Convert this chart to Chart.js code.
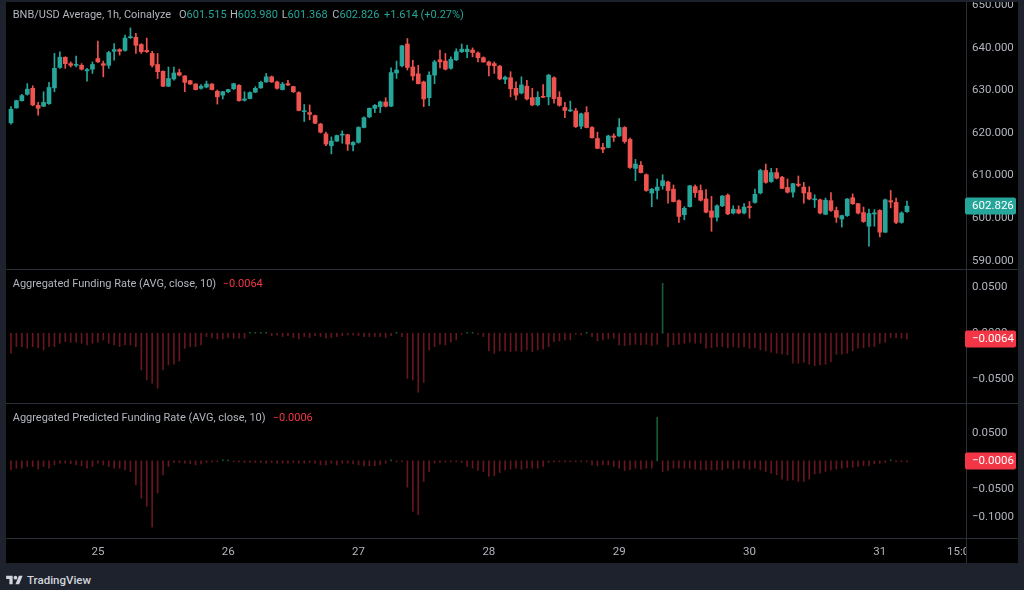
<!DOCTYPE html>
<html><head><meta charset="utf-8">
<script src="https://cdn.jsdelivr.net/npm/chart.js@4.4.1/dist/chart.umd.min.js"></script>
<style>
html,body{margin:0;padding:0;background:#1e222d;width:1024px;height:590px;overflow:hidden;}
#frame{position:absolute;left:6px;top:2px;width:1012px;height:561px;background:#000;}
.pane{position:absolute;left:6px;width:1012px;}
#pA{top:2px;height:267px}
#pB{top:269px;height:134px}
#pC{top:403px;height:160px}
canvas{display:block}
#footer{position:absolute;left:6px;top:572px;height:16px;display:flex;align-items:center;color:#d1d4dc;font:500 11.5px Roboto, sans-serif;}
#footer svg{margin-right:4px}
</style></head><body>
<div id="frame"></div>
<div class="pane" id="pA"><canvas id="cA" width="1012" height="267"></canvas></div>
<div class="pane" id="pB"><canvas id="cB" width="1012" height="134"></canvas></div>
<div class="pane" id="pC"><canvas id="cC" width="1012" height="160"></canvas></div>
<div id="footer"><svg width="17" height="13" viewBox="0 0 36 28"><path fill="#d1d4dc" d="M14 22H7V11H0V4h14v18zM28 22h-8l7.5-18h8L28 22z"/><circle fill="#d1d4dc" cx="20" cy="8" r="4"/></svg><span>TradingView</span></div>
<script>
// ---- data (hourly candles, 24th 08:00 -> 31st 05:00) ----
const hours = Array.from({length:166}, (_, i) => 8 + i); // hours since day 24, 00:00
const opens = [622.4,625.9,627.6,629.1,630.5,626.5,626.3,626.9,630.6,635.4,637.8,636.3,635.9,635.9,634.6,635.0,637.5,636.3,635.9,639.2,639.6,639.4,642.4,642.5,640.8,639.4,638.7,636.1,634.5,631.0,632.7,634.2,633.4,632.3,631.5,630.5,630.8,631.5,629.8,628.9,629.7,630.4,631.2,627.7,628.1,629.6,630.6,632.0,633.2,632.0,630.2,631.6,630.9,629.5,625.0,624.8,624.1,622.1,619.8,617.0,618.1,619.5,619.6,617.2,617.8,621.3,623.8,625.8,626.2,627.3,626.3,634.1,635.8,640.9,635.5,633.9,632.0,628.3,633.6,637.2,636.9,635.2,637.2,639.1,639.1,639.5,638.8,637.7,636.7,636.3,635.7,632.6,633.0,630.5,629.4,631.0,628.3,626.6,628.5,628.5,633.0,628.4,626.0,625.2,625.2,621.6,624.8,621.3,618.7,616.6,616.6,619.3,619.3,621.3,618.5,611.7,612.4,610.2,605.9,606.5,607.6,608.5,606.8,604.1,600.8,602.7,607.4,606.5,604.5,601.7,600.2,602.9,605.4,601.2,602.0,601.2,602.7,603.7,605.9,611.2,608.6,610.7,609.6,607.2,606.1,608.0,607.3,606.0,604.3,604.3,600.9,604.1,601.8,599.8,600.6,604.8,603.4,601.3,598.1,601.0,601.8,596.7,604.1,603.7,599.0,601.515];
const highs = [626.2,627.7,629.1,631.6,631.1,627.2,629.7,631.9,638.7,639.1,637.9,636.7,638.1,636.3,635.2,636.7,641.6,636.9,639.2,641.0,639.8,643.0,644.7,643.4,641.0,642.3,639.2,638.7,634.6,635.5,635.5,635.0,633.5,632.4,631.6,631.4,632.2,631.6,630.1,629.8,630.3,631.7,631.4,629.7,629.7,630.9,632.2,634.0,633.4,632.2,631.9,632.4,631.0,629.7,626.7,626.6,624.2,622.3,620.2,619.1,619.5,620.5,619.7,618.0,621.5,623.8,625.9,626.7,627.5,628.3,635.3,636.9,640.6,642.2,637.1,635.9,632.2,634.4,637.1,639.5,638.7,637.9,639.8,640.9,640.6,640.0,639.1,637.9,636.9,636.7,635.9,633.4,634.4,632.0,633.2,632.4,630.5,629.7,631.4,633.8,633.2,629.7,627.2,627.5,625.8,624.7,626.2,621.5,620.2,617.6,619.5,619.8,623.4,621.5,618.8,613.8,613.3,610.4,607.0,609.2,610.2,608.7,607.8,604.3,602.7,607.7,607.8,607.8,606.7,605.1,603.1,605.3,605.7,602.9,602.9,603.4,603.9,606.8,611.5,612.7,611.7,611.7,609.8,609.2,608.2,609.9,608.4,607.4,605.5,604.5,604.7,606.0,602.6,600.7,604.6,605.7,603.5,602.6,602.1,602.0,602.0,604.5,606.5,604.7,601.5,603.980];
const lows = [622.1,625.8,627.5,628.9,626.4,624.2,626.2,626.7,629.7,635.2,635.2,635.5,635.5,634.8,632.2,634.0,636.6,633.2,635.2,637.1,638.3,639.2,642.2,638.7,638.7,638.9,635.5,632.8,630.9,630.9,632.4,633.4,629.7,631.4,630.1,630.3,630.6,630.1,626.8,628.0,629.5,630.2,627.5,627.5,628.0,629.5,630.5,631.9,631.9,630.3,630.1,631.1,629.5,625.2,622.7,623.1,622.2,620.0,617.0,615.1,618.0,617.6,615.9,615.8,617.6,621.2,623.6,624.8,624.8,626.1,626.2,632.8,635.5,634.8,632.4,631.5,626.2,626.4,631.6,635.3,634.8,635.0,637.0,638.9,637.7,637.9,636.7,636.6,633.4,634.0,632.5,631.6,628.5,627.8,629.2,627.8,626.4,626.4,628.3,626.6,627.0,626.3,623.6,625.0,621.3,621.0,621.2,618.8,616.3,615.4,616.5,618.0,619.2,617.6,611.7,608.8,610.6,606.3,602.7,604.5,606.8,603.5,603.8,599.0,599.6,602.6,604.9,604.0,601.2,596.9,599.3,602.7,600.8,601.0,601.0,601.0,600.0,603.5,605.7,608.2,608.4,609.2,606.9,605.9,604.9,607.4,603.5,604.3,602.5,601.0,600.8,601.6,599.0,597.9,600.4,603.2,601.0,599.0,593.4,598.1,595.6,596.6,602.4,598.7,598.8,601.368];
const closes = [625.6,627.6,628.8,630.3,626.6,625.8,627.2,630.7,635.2,637.8,636.3,635.9,636.1,635.0,634.9,636.1,636.7,635.9,638.9,639.6,639.2,642.3,642.5,640.6,639.1,639.1,635.9,634.4,631.0,632.8,634.1,633.6,631.9,631.5,630.2,631.0,631.5,630.2,628.5,629.7,630.2,631.6,627.6,628.0,629.5,630.5,631.9,633.2,632.0,630.5,631.5,631.3,629.7,625.3,625.2,624.4,622.3,620.2,617.4,618.1,619.4,619.7,617.4,617.8,621.3,623.6,625.8,626.5,627.3,626.3,634.2,634.8,640.5,635.4,633.4,631.6,628.0,633.6,636.7,636.7,635.0,637.3,639.1,639.7,639.7,638.9,637.7,636.7,635.9,635.8,632.7,633.1,630.4,628.9,631.3,628.0,626.6,628.4,628.4,633.6,628.1,626.5,625.3,625.4,621.5,624.5,621.3,618.9,616.4,616.2,619.3,619.0,621.3,618.0,611.9,612.7,610.7,606.5,606.8,607.3,608.8,606.5,603.9,600.4,602.3,607.6,606.0,604.2,601.4,600.2,602.9,605.2,601.0,602.1,601.2,602.6,602.5,605.6,611.2,608.4,610.7,609.4,607.0,606.1,608.1,607.7,605.9,604.5,604.5,601.2,604.2,601.8,600.2,600.6,604.5,603.4,601.2,599.2,601.1,601.2,596.7,604.3,603.8,599.0,601.212,602.826];
const funding = [-0.0216,-0.0144,-0.0144,-0.0162,-0.0144,-0.0155,-0.018,-0.0144,-0.0144,-0.0108,
 -0.009,-0.0097,-0.0097,-0.0108,-0.0126,-0.0108,-0.0097,-0.0072,-0.0108,-0.0126,
 -0.0144,-0.0126,-0.0126,-0.0144,-0.0396,-0.0504,-0.054,-0.0594,-0.0396,-0.0342,
 -0.0335,-0.030,-0.0162,-0.0144,-0.0144,-0.0126,-0.0036,-0.0047,-0.0061,-0.0061,
 -0.0047,-0.0054,-0.0054,-0.0054,0.0005,0.0007,0.0004,0.001,-0.0025,-0.002,
 -0.0036,-0.0025,-0.0047,-0.0061,-0.0036,-0.0047,-0.0025,-0.0036,-0.0054,-0.0047,
 -0.0036,-0.0025,-0.0018,-0.0018,-0.0025,-0.0036,-0.0036,-0.0036,-0.0036,-0.0047,
 -0.0025,0.0007,-0.0036,-0.0486,-0.0504,-0.0637,-0.053,-0.018,-0.0144,-0.0119,
 -0.0126,-0.0097,-0.0072,-0.001,0.0008,0.0005,-0.001,-0.0036,-0.019,-0.0216,
 -0.019,-0.019,-0.0198,-0.019,-0.0198,-0.018,-0.0198,-0.018,-0.0172,-0.0144,
 -0.009,-0.0083,-0.0072,-0.0072,-0.001,-0.0018,0.0003,-0.0036,-0.0083,-0.0072,
 -0.0061,-0.0054,-0.0126,-0.0133,-0.0126,-0.0119,-0.0126,-0.0119,-0.0133,-0.0119,
 0.054,-0.0144,-0.0126,-0.0119,-0.0108,-0.0097,-0.0108,-0.0108,-0.0162,-0.0155,
 -0.0144,-0.0144,-0.0155,-0.0144,-0.0155,-0.0144,-0.0162,-0.0155,-0.018,-0.019,
 -0.0205,-0.0216,-0.0227,-0.0234,-0.0324,-0.0324,-0.0313,-0.0335,-0.035,-0.0342,
 -0.0335,-0.0306,-0.0227,-0.0227,-0.0216,-0.019,-0.0162,-0.0155,-0.0144,-0.0144,
 -0.0108,-0.0097,-0.0047,-0.0047,-0.0054,-0.0064];
const predicted = [-0.0159,-0.013,-0.013,-0.010,-0.010,-0.0147,-0.010,-0.013,-0.0071,-0.0041,
 -0.0041,-0.0053,-0.0071,-0.0088,-0.013,-0.010,-0.0041,-0.0071,-0.010,-0.013,
 -0.013,-0.0159,-0.0188,-0.0424,-0.066,-0.0807,-0.1172,-0.0571,-0.0247,-0.010,
 -0.0029,-0.0029,-0.0041,-0.0053,-0.0071,-0.0053,-0.0029,-0.0018,-0.0012,0.001,
 0.0012,-0.0006,-0.0012,-0.0029,-0.0029,-0.0029,-0.0029,-0.0041,-0.0029,-0.0041,
 -0.0041,-0.0041,-0.0029,-0.0041,-0.0041,-0.0029,-0.0041,-0.0071,-0.0071,-0.0041,
 -0.0071,-0.0041,-0.0041,-0.0053,-0.0071,-0.0088,-0.0088,-0.0088,-0.0071,-0.0041,
 0.0018,-0.0012,-0.0006,-0.0465,-0.0895,-0.0954,-0.0365,-0.0188,-0.0041,-0.0029,
 -0.0018,-0.0018,-0.0012,-0.0029,-0.010,-0.013,-0.0171,-0.0188,-0.0277,-0.0265,
 -0.0206,-0.0159,-0.0147,-0.013,-0.0147,-0.013,-0.013,-0.013,-0.010,-0.0029,
 -0.0018,-0.0018,-0.0018,-0.0012,-0.0018,-0.0012,-0.0018,-0.0071,-0.0088,-0.0071,
 -0.0071,-0.010,-0.013,-0.0171,-0.0159,-0.013,-0.0147,-0.013,-0.013,0.0772,
 -0.0188,-0.0171,-0.013,-0.013,-0.013,-0.013,-0.0147,-0.0159,-0.0159,-0.0159,
 -0.0159,-0.0159,-0.013,-0.0147,-0.013,-0.013,-0.0147,-0.013,-0.0159,-0.0188,
 -0.0218,-0.0247,-0.0324,-0.0347,-0.0336,-0.0365,-0.0365,-0.0324,-0.023,-0.0218,
 -0.0188,-0.0159,-0.0147,-0.013,-0.0118,-0.0112,-0.010,-0.0088,-0.0088,-0.0053,
 -0.0041,-0.0029,0.0012,-0.0012,-0.0012,-0.0006];
const priceTicks = [590, 600, 610, 620, 630, 640, 650];
const fundingTicks = [0.05, 0, -0.05];
const predictedTicks = [0.05, 0, -0.05, -0.1];
const dayTicks = [24, 48, 72, 96, 120, 144, 168, 183]; // hours since day 24 00:00
const dayTickLabels = ['25', '26', '27', '28', '29', '30', '31', '15:00'];
const titleMain = 'BNB/USD Average, 1h, Coinalyze';
const titleFunding = 'Aggregated Funding Rate (AVG, close, 10)';
const titlePredicted = 'Aggregated Predicted Funding Rate (AVG, close, 10)';

// ---- styles ----
const UP = '#26a69a', DOWN = '#ef5350', TXT = '#b2b5be', RED = '#f23645', SEP = '#2a2e39';
const HIST_DOWN = 'rgba(242,54,69,0.42)', HIST_UP = 'rgba(38,166,100,0.55)';
const FONT = 'Roboto, "Liberation Sans", sans-serif';
const FS_AXIS = 11.5, FS_TXT = 11;
const X_MIN = 7.08, X_MAX = 183.87, AXIS_W = 52;
const last = closes.length - 1;
const fmt = (v, d) => (v < 0 ? '\u2212' : '') + Math.abs(v).toFixed(d);
const candleCol = ctx => closes[ctx.dataIndex] >= opens[ctx.dataIndex] ? UP : DOWN;
const histCol = arr => ctx => arr[ctx.dataIndex] >= 0 ? HIST_UP : HIST_DOWN;

function yAxis(min, max, ticks, dec) {
  return {
    position: 'right', min, max,
    afterFit: s => { s.width = AXIS_W; s.paddingTop = 0; s.paddingBottom = 0; },
    afterBuildTicks: s => { s.ticks = ticks.map(v => ({value: v})); },
    grid: {display: false, drawTicks: false},
    border: {display: true, color: SEP, width: 1},
    ticks: {color: TXT, font: {family: FONT, size: FS_AXIS}, padding: 6, autoSkip: false,
      callback: v => fmt(v, dec)}
  };
}
function xAxis(show) {
  return {
    type: 'linear', min: X_MIN, max: X_MAX, offset: false, display: show,
    afterFit: s => { s.height = show ? 25 : 0; s.paddingLeft = 0; s.paddingRight = 0; },
    afterBuildTicks: s => { s.ticks = dayTicks.map(v => ({value: v})); },
    grid: {display: false, drawTicks: false},
    border: {display: false},
    ticks: {color: TXT, font: {family: FONT, size: FS_AXIS}, padding: 7, autoSkip: false, maxRotation: 0,
      callback: v => dayTickLabels[dayTicks.indexOf(v)]}
  };
}
function valueBox(ctx, chart, yScale, value, text, bg) {
  const y = Math.round(yScale.getPixelForValue(value));
  const x0 = chart.chartArea.right - 1;
  ctx.save();
  ctx.fillStyle = bg;
  ctx.beginPath();
  ctx.roundRect(x0, y - 8.5, 51, 17, 2);
  ctx.fill();
  ctx.fillStyle = '#ffffff';
  ctx.font = `${FS_AXIS}px ${FONT}`;
  ctx.textBaseline = 'middle';
  ctx.fillText(text, chart.chartArea.right + 6, y + 0.5);
  ctx.restore();
}
function legend(ctx, y, parts) {
  ctx.save();
  ctx.font = `${FS_TXT}px ${FONT}`;
  ctx.textBaseline = 'middle';
  for (const [x, segs] of parts) {
    let cx = x;
    for (const [t, c] of segs) { ctx.fillStyle = c; ctx.fillText(t, cx, y); cx += ctx.measureText(t).width; }
  }
  ctx.restore();
}
const common = {responsive: false, animation: false, events: [],
  layout: {padding: 0}, plugins: {legend: {display: false}, tooltip: {enabled: false}}};

// ---- price pane ----
new Chart(document.getElementById('cA'), {
  type: 'bar',
  data: {datasets: [
    {data: hours.map((h, i) => ({x: h, y: [opens[i], closes[i]]})), backgroundColor: candleCol,
      barThickness: 4, minBarLength: 1, grouped: false, order: 1, borderWidth: 0},
    {data: hours.map((h, i) => ({x: h, y: [lows[i], highs[i]]})), backgroundColor: candleCol,
      barThickness: 1, grouped: false, order: 2, borderWidth: 0}
  ]},
  options: Object.assign({}, common, {scales: {x: xAxis(false), y: yAxis(588.05, 650.78, priceTicks, 3)}}),
  plugins: [{id: 'hdr', afterDraw(chart) {
    const ctx = chart.ctx;
    const chg = closes[last] - closes[last - 1];
    const pct = chg / closes[last - 1] * 100;
    legend(ctx, 13.5, [
      [6.7, [[titleMain, TXT]]],
      [173, [['O', TXT], [opens[last].toFixed(3), UP]]],
      [224, [['H', TXT], [highs[last].toFixed(3), UP]]],
      [275.7, [['L', TXT], [lows[last].toFixed(3), UP]]],
      [326.3, [['C', TXT], [closes[last].toFixed(3), UP]]],
      [378, [[(chg >= 0 ? '+' : '\u2212') + Math.abs(chg).toFixed(3) + ' (' + (pct >= 0 ? '+' : '\u2212') + Math.abs(pct).toFixed(2) + '%)', UP]]]
    ]);
    valueBox(ctx, chart, chart.scales.y, closes[last], closes[last].toFixed(3), UP);
  }}]
});

// ---- funding pane ----
new Chart(document.getElementById('cB'), {
  type: 'bar',
  data: {datasets: [{data: hours.map((h, i) => ({x: h, y: funding[i]})), backgroundColor: histCol(funding),
    barThickness: 1, minBarLength: 1, grouped: false, borderWidth: 0}]},
  options: Object.assign({}, common, {scales: {x: xAxis(false), y: yAxis(-0.0753, 0.0694, fundingTicks, 4)}}),
  plugins: [{id: 'lg', afterDraw(chart) {
    const ctx = chart.ctx;
    ctx.save(); ctx.fillStyle = SEP; ctx.fillRect(0, 0, chart.width, 1); ctx.restore();
    legend(ctx, 15, [[6.7, [[titleFunding, TXT]]], [216.7, [[fmt(funding[last], 4), RED]]]]);
    valueBox(ctx, chart, chart.scales.y, funding[last], fmt(funding[last], 4), RED);
  }}]
});

// ---- predicted funding pane + time axis ----
new Chart(document.getElementById('cC'), {
  type: 'bar',
  data: {datasets: [{data: hours.map((h, i) => ({x: h, y: predicted[i]})), backgroundColor: histCol(predicted),
    barThickness: 1, minBarLength: 1, grouped: false, borderWidth: 0}]},
  options: Object.assign({}, common, {scales: {x: xAxis(true), y: yAxis(-0.1366, 0.1025, predictedTicks, 4)}}),
  plugins: [{id: 'lg', afterDraw(chart) {
    const ctx = chart.ctx, a = chart.chartArea;
    ctx.save();
    ctx.fillStyle = '#000';
    ctx.fillRect(a.right + 1, a.bottom + 1, chart.width - a.right, chart.height - a.bottom);
    ctx.fillStyle = SEP;
    ctx.fillRect(0, 0, chart.width, 1);
    ctx.fillRect(0, a.bottom, chart.width, 1);
    ctx.fillRect(a.right, 0, 1, chart.height);
    ctx.restore();
    legend(ctx, 15.3, [[6.7, [[titlePredicted, TXT]]], [266.7, [[fmt(predicted[last], 4), RED]]]]);
    valueBox(ctx, chart, chart.scales.y, predicted[last], fmt(predicted[last], 4), RED);
  }}]
});
</script>
</body></html>
